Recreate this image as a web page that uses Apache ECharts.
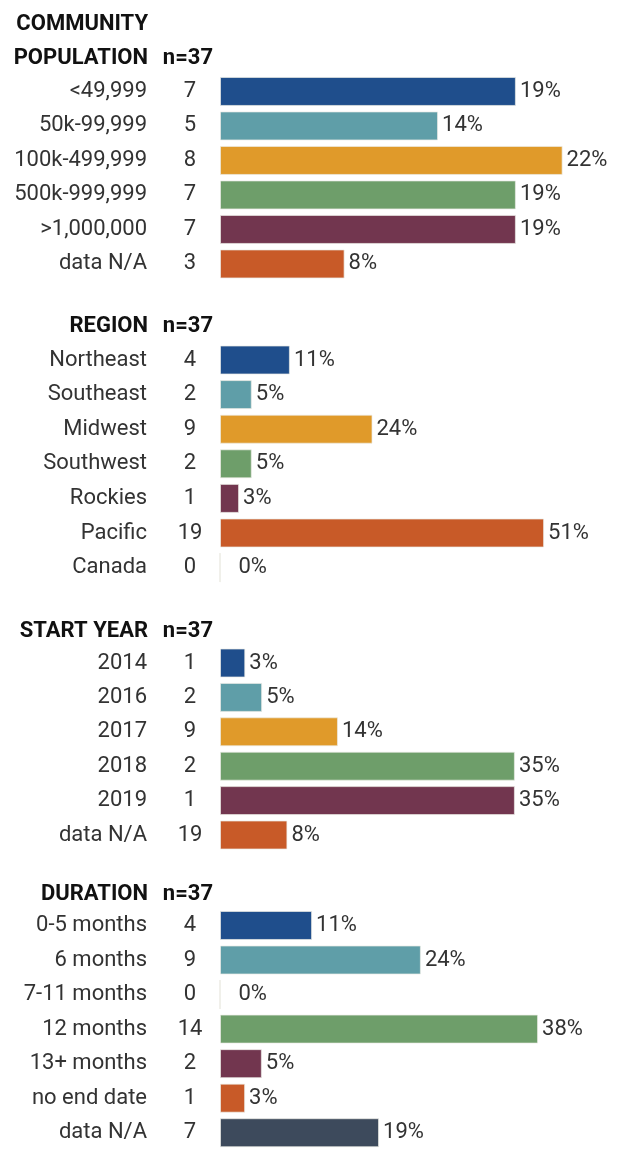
<!DOCTYPE html>
<html>
<head>
<meta charset="utf-8">
<script src="https://cdn.jsdelivr.net/npm/echarts@6/dist/echarts.min.js"></script>
<style>
html,body{margin:0;padding:0;background:#fff;}
#c{width:618px;height:1150px;}
</style>
</head>
<body>
<div id="c"></div>
<script>
// ---- data ----
const popCategories = ['<49,999', '50k-99,999', '100k-499,999', '500k-999,999', '>1,000,000', 'data N/A'];
const popCounts = [7, 5, 8, 7, 7, 3];
const popPercents = [19, 14, 22, 19, 19, 8];

const regionCategories = ['Northeast', 'Southeast', 'Midwest', 'Southwest', 'Rockies', 'Pacific', 'Canada'];
const regionCounts = [4, 2, 9, 2, 1, 19, 0];
const regionPercents = [11, 5, 24, 5, 3, 51, 0];

const yearCategories = ['2014', '2016', '2017', '2018', '2019', 'data N/A'];
const yearCounts = [1, 2, 9, 2, 1, 19];
const yearPercents = [3, 5, 14, 35, 35, 8];

const durationCategories = ['0-5 months', '6 months', '7-11 months', '12 months', '13+ months', 'no end date', 'data N/A'];
const durationCounts = [4, 9, 0, 14, 2, 1, 7];
const durationPercents = [11, 24, 0, 38, 5, 3, 19];

const panelTitles = ['COMMUNITY\nPOPULATION', 'REGION', 'START YEAR', 'DURATION'];
const sampleLabel = 'n=37';

// ---- styles ----
const palette = ['#1f4e8c', '#5f9ea8', '#e09a2a', '#6e9e6a', '#72364f', '#c85a28', '#3d4a5c'];
const FONT = "Roboto, 'Liberation Sans Narrow', sans-serif";
const LABEL_SIZE = 22;

const panels = [
  {cats: popCategories, counts: popCounts, pcts: popPercents, top: 74.2, pitch: 34.5, max: 24.4, titleY: 7, nY: 41},
  {cats: regionCategories, counts: regionCounts, pcts: regionPercents, top: 342.7, pitch: 34.6, max: 59.8, titleY: 309, nY: 309},
  {cats: yearCategories, counts: yearCounts, pcts: yearPercents, top: 645.8, pitch: 34.4, max: 45.1, titleY: 614, nY: 614},
  {cats: durationCategories, counts: durationCounts, pcts: durationPercents, top: 908.2, pitch: 34.67, max: 45.4, titleY: 877, nY: 877}
];

const GRID_LEFT = 220, GRID_W = 380;
const grid = [], xAxis = [], yAxis = [], series = [], title = [];

panels.forEach((p, i) => {
  grid.push({left: GRID_LEFT, top: p.top, width: GRID_W, height: p.cats.length * p.pitch});
  xAxis.push({gridIndex: i, type: 'value', min: 0, max: p.max, show: false});
  // category names
  yAxis.push({
    gridIndex: i, type: 'category', data: p.cats, inverse: true, position: 'left',
    axisLine: {show: false}, axisTick: {show: false}, splitLine: {show: false},
    axisLabel: {margin: 73, align: 'right', fontFamily: FONT, fontSize: LABEL_SIZE, color: '#333'}
  });
  // counts
  yAxis.push({
    gridIndex: i, type: 'category', data: p.counts.map(String), inverse: true, position: 'left',
    axisLine: {show: false}, axisTick: {show: false}, splitLine: {show: false},
    axisLabel: {margin: 30, align: 'center', fontFamily: FONT, fontSize: LABEL_SIZE, color: '#333'}
  });
  series.push({
    type: 'bar', xAxisIndex: i, yAxisIndex: i * 2, barWidth: 29,
    data: p.pcts.map((v, k) => ({
      value: v,
      itemStyle: {color: palette[k % palette.length], borderColor: v === 0 ? '#ecebe4' : 'rgba(235,235,230,0.7)', borderWidth: 1},
      label: v === 0 ? {offset: [14, 0]} : undefined
    })),
    label: {show: true, position: 'right', distance: 4, formatter: '{c}%', fontFamily: FONT, fontSize: LABEL_SIZE, color: '#333'},
    silent: true, animation: false
  });
  title.push({
    text: panelTitles[i], left: 148, top: p.titleY, textAlign: 'right', padding: 0,
    textStyle: {fontFamily: FONT, fontSize: 22, fontWeight: 'bold', color: '#111', lineHeight: 34}
  });
  title.push({
    text: sampleLabel, left: 213, top: p.nY, textAlign: 'right', padding: 0,
    textStyle: {fontFamily: FONT, fontSize: 22, fontWeight: 'bold', color: '#111', lineHeight: 34}
  });
});

const chart = echarts.init(document.getElementById('c'), null, {renderer: 'canvas'});
chart.setOption({backgroundColor: '#fff', animation: false, title, grid, xAxis, yAxis, series});
</script>
</body>
</html>
